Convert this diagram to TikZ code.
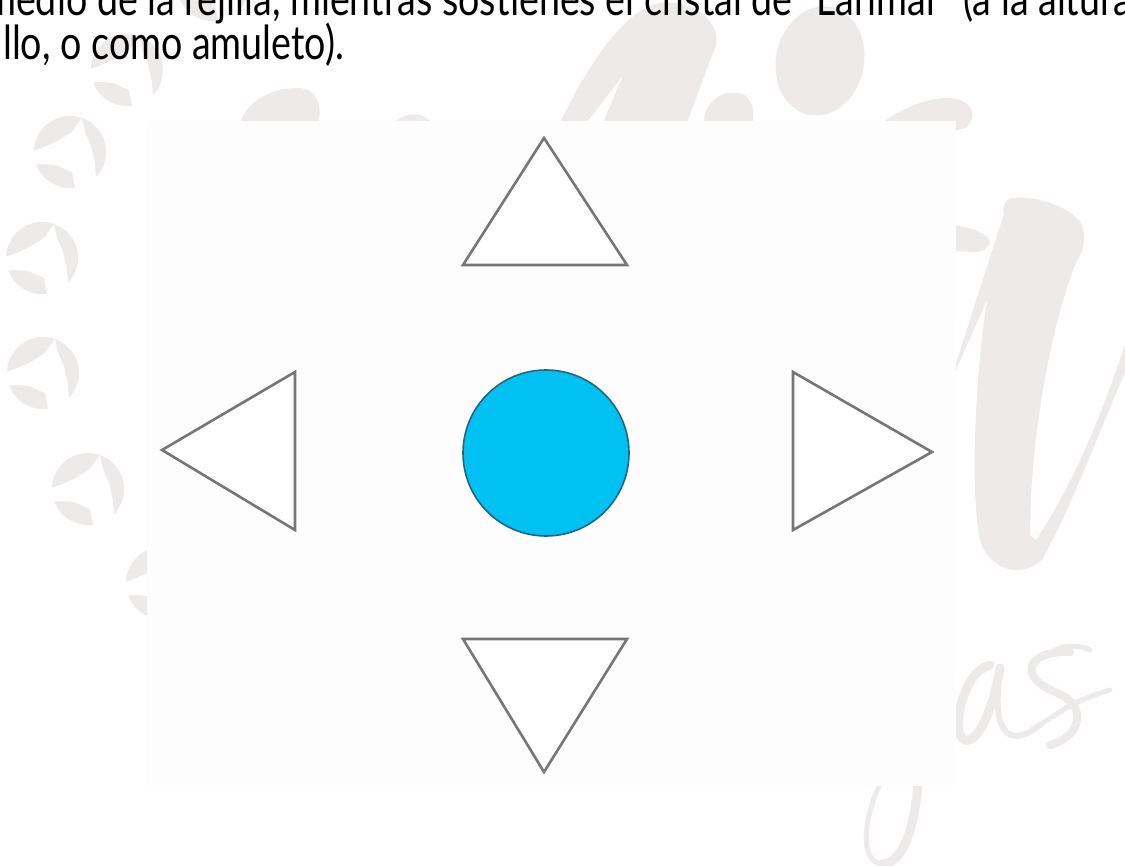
\documentclass[tikz,border=0pt]{standalone}
\usepackage{fontspec}
\setmainfont{Lato}
\definecolor{wm}{HTML}{EDEAE9}
\definecolor{tricol}{HTML}{767676}
\definecolor{ball}{HTML}{00C1F2}
\definecolor{ballrim}{HTML}{25657E}
\definecolor{panel}{HTML}{FDFDFD}
\newcommand\wmanimal[2]{%
  \begin{scope}[shift={(#1,#2)}]
    \fill[wm] (0,0) circle[radius=36];
    \fill[white] (-40,0) -- (-28,-4) -- (-12,-11) -- (2,-20) -- (12,-34) -- (15,-20)
      -- (21,-6) -- (25,12) -- (27,40) -- (6,40) -- (2,20) -- (-14,13) -- (-26,12) -- (-40,13) -- cycle;
  \end{scope}}
\begin{document}
\begin{tikzpicture}[x=1pt,y=-1pt,
  wmfill/.style={fill=wm,draw=none},
  trishape/.style={draw=tricol,line width=2.6pt,line join=miter,fill=white},
  txt/.style={anchor=base west,inner sep=0pt,font=\fontsize{47}{52}\selectfont}]
\useasboundingbox (0,0) rectangle (1125,866);
\fill[white] (0,0) rectangle (1125,866);
\begin{scope}
\clip (0,0) rectangle (1125,866);
% ---- watermark ----
\wmanimal{213}{-15}
\wmanimal{127}{70}
\wmanimal{70}{152}
\wmanimal{42}{258}
\wmanimal{43}{373}
\wmanimal{88}{489}
\wmanimal{162}{583}
% top shapes
\fill[wmfill] (240,125) .. controls (245,100) and (275,87) .. (300,88) .. controls (320,90) and (322,110) .. (318,125) -- cycle;
\fill[wmfill] (393,125) .. controls (400,112) and (425,110) .. (433,125) -- cycle;
\fill[wmfill] (559,125) .. controls (590,60) and (625,10) .. (660,3) .. controls (700,0) and (720,25) .. (716,45) -- (686,125) -- cycle;
\fill[white] (622,77) -- (585,125) -- (602,125) -- cycle;
\fill[wmfill] (703,125) .. controls (705,95) and (730,88) .. (745,95) .. controls (755,105) and (754,115) .. (752,125) -- cycle;
\fill[wmfill] (820,61) ellipse[x radius=44,y radius=55,rotate=-12];
\fill[wmfill] (880,125) .. controls (900,108) and (930,97) .. (950,98) .. controls (975,100) and (978,118) .. (965,128) -- (940,135) -- cycle;
\fill[wmfill] (945,225) .. controls (970,225) and (990,235) .. (990,242) .. controls (988,250) and (980,253) .. (970,252) -- (945,250) -- cycle;
% big letter on the right
\fill[wmfill] (1012,198) .. controls (1040,195) and (1075,210) .. (1082,225)
  .. controls (1088,245) and (1080,255) .. (1075,265)
  .. controls (1050,330) and (1030,440) .. (1030,535)
  -- (1036,540) .. controls (1070,490) and (1100,420) .. (1125,345)
  -- (1125,372) .. controls (1100,430) and (1070,510) .. (1042,560)
  .. controls (1022,578) and (990,572) .. (980,540)
  .. controls (970,490) and (975,380) .. (987,300)
  -- (948,388) -- (1004,214) .. controls (1002,206) and (1005,200) .. (1012,198) -- cycle;
% "as"
\draw[wm,line width=9pt,line cap=round] (990,665) .. controls (962,672) and (950,735) .. (965,740) .. controls (980,744) and (995,700) .. (1000,668);
\draw[wm,line width=6pt,line cap=round] (998,690) .. controls (995,740) and (1015,745) .. (1040,725);
\draw[wm,line width=8pt,line cap=round] (1070,652) .. controls (1030,650) and (1015,675) .. (1055,692) .. controls (1090,705) and (1080,738) .. (1050,745);
\draw[wm,line width=5pt,line cap=round] (1040,725) .. controls (1060,712) and (1075,700) .. (1110,690);
\draw[wm,line width=5pt,line cap=round] (1055,650) .. controls (1065,645) and (1080,645) .. (1090,650);
% loop at the bottom
\draw[wm,line width=5pt,line cap=round] (882,780) .. controls (862,820) and (860,862) .. (882,864);
\draw[wm,line width=9pt,line cap=round] (882,864) .. controls (905,864) and (916,820) .. (918,780);
% ---- panel ----
\fill[panel] (147,121) rectangle (956,786);
% ---- text ----
\node[txt] (line1) at (-15,16) {\scalebox{0.8}[1]{medio de la rejilla, mientras sostienes el cristal de “Larimar” (a la altura}};
\node[txt] (line2) at (3,60) {\scalebox{0.8}[1]{llo, o como amuleto).}};
\end{scope}
% ---- figure ----
\coordinate (t1) at (544,138); \coordinate (t2) at (463,265); \coordinate (t3) at (627,265);
\coordinate (b1) at (463,639); \coordinate (b2) at (627,639); \coordinate (b3) at (544,772);
\coordinate (l1) at (162,450); \coordinate (l2) at (295,372); \coordinate (l3) at (295,530);
\coordinate (r1) at (932,452); \coordinate (r2) at (793,372); \coordinate (r3) at (793,530);
\draw[trishape] (t1) -- (t2) -- (t3) -- cycle;
\draw[trishape] (b1) -- (b2) -- (b3) -- cycle;
\draw[trishape] (l1) -- (l2) -- (l3) -- cycle;
\draw[trishape] (r1) -- (r2) -- (r3) -- cycle;
\node[circle,draw=ballrim,fill=ball,line width=1.6pt,minimum size=166pt,inner sep=0pt] (ball) at (546,453) {};
\end{tikzpicture}
\end{document}
